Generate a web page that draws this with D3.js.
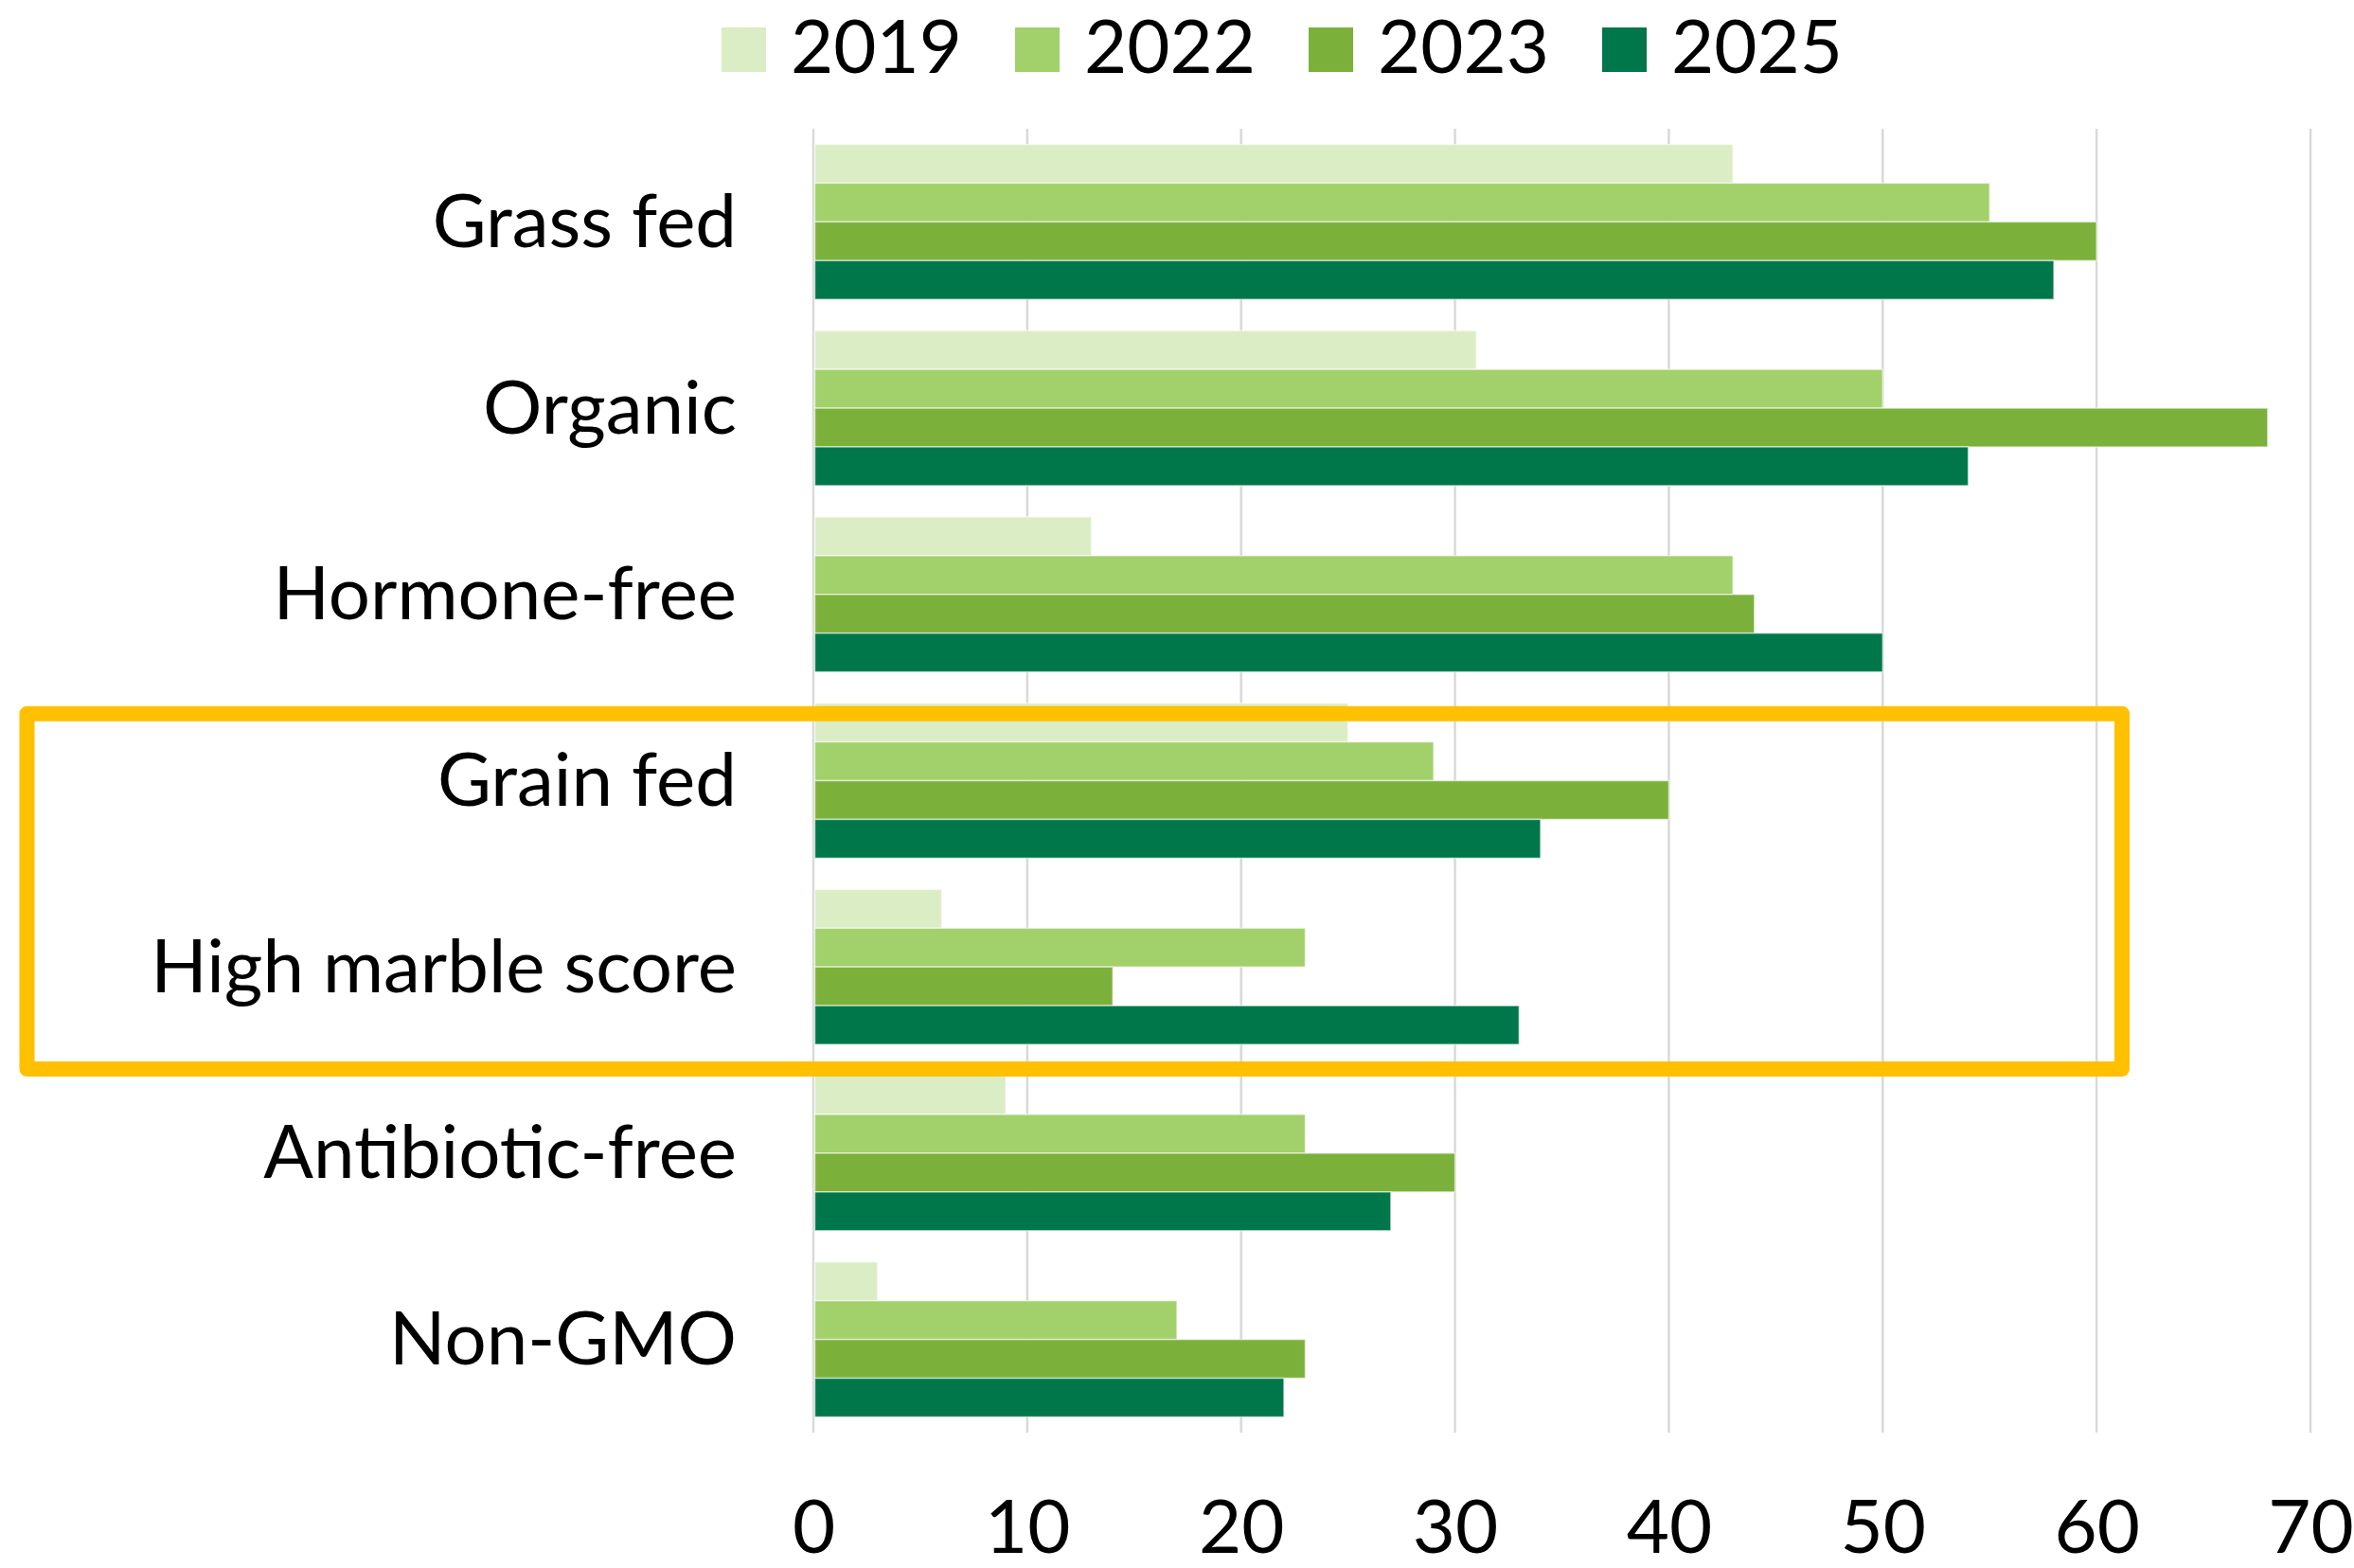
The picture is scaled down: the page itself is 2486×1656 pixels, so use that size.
<!DOCTYPE html>
<html>
<head>
<meta charset="utf-8">
<script src="https://cdn.jsdelivr.net/npm/d3@7"></script>
<style>
  html, body { margin: 0; padding: 0; background: #ffffff; }
  svg { display: block; }
  text { font-family: Lato, "Open Sans", "Noto Sans", sans-serif; fill: #000; }
</style>
</head>
<body>
<svg id="chart" width="2486" height="1656"></svg>
<script>
// Product attributes shown as rows, top to bottom
const categories = ["Grass fed", "Organic", "Hormone-free", "Grain fed", "High marble score", "Antibiotic-free", "Non-GMO"];
// Survey years (series)
const years = ["2019", "2022", "2023", "2025"];
// Values per year, aligned with categories
const values2019 = [43, 31, 13, 25, 6, 9, 3];
const values2022 = [55, 50, 43, 29, 23, 23, 17];
const values2023 = [60, 68, 44, 40, 14, 30, 23];
const values2025 = [58, 54, 50, 34, 33, 27, 22];
// Axis tick values
const xTicks = [0, 10, 20, 30, 40, 50, 60, 70];
// Rows enclosed by the highlight frame
const highlighted = ["Grain fed", "High marble score"];

const seriesValues = { "2019": values2019, "2022": values2022, "2023": values2023, "2025": values2025 };
const colors = { "2019": "#DBEDC4", "2022": "#A2D06A", "2023": "#7BB13A", "2025": "#00774B" };

const svg = d3.select("#chart");
const fontSize = 78;

const plot = { left: 859, right: 2440, top: 136, bottom: 1513 };

const x = d3.scaleLinear().domain([0, 70]).range([plot.left, plot.right]);
const y = d3.scaleBand().domain(categories).range([plot.top, plot.bottom])
  .paddingInner(0.168).paddingOuter(0.084);
const ySub = d3.scaleBand().domain(years).range([0, y.bandwidth()]);

// Vertical gridlines
svg.append("g").selectAll("line").data(xTicks).join("line")
  .attr("x1", d => x(d)).attr("x2", d => x(d))
  .attr("y1", plot.top).attr("y2", plot.bottom)
  .attr("stroke", "#D9D9D9").attr("stroke-width", 2.5);

// Bars
const rows = categories.map((c, i) => ({ cat: c, bars: years.map(yr => ({ year: yr, value: seriesValues[yr][i] })) }));
const groups = svg.append("g").selectAll("g").data(rows).join("g")
  .attr("transform", d => `translate(0,${y(d.cat)})`);
groups.selectAll("rect").data(d => d.bars).join("rect")
  .attr("x", x(0) + 1.5)
  .attr("y", d => ySub(d.year))
  .attr("width", d => x(d.value) - x(0) - 1.5)
  .attr("height", ySub.bandwidth())
  .attr("fill", d => colors[d.year])
  .attr("stroke", "rgba(255,255,255,0.55)")
  .attr("stroke-width", 1.5);

// Category labels
svg.append("g").selectAll("text").data(categories).join("text")
  .attr("x", 778)
  .attr("y", d => y(d) + y.bandwidth() / 2)
  .attr("dy", "0.34em")
  .attr("text-anchor", "end")
  .attr("font-size", fontSize)
  .text(d => d);

// X axis labels
const xAxis = d3.axisBottom(x).tickValues(xTicks).tickSize(0).tickPadding(0).tickFormat(d3.format("d"));
const axisG = svg.append("g").attr("transform", `translate(0,${1640})`).call(xAxis);
axisG.select(".domain").remove();
axisG.selectAll("text")
  .attr("font-size", fontSize)
  .attr("font-family", "Lato, 'Open Sans', sans-serif")
  .attr("fill", "#000")
  .attr("dy", "0");

// Legend
const legend = svg.append("g");
const legendX = d3.scalePoint().domain(years).range([762, 1692]);
const item = legend.selectAll("g").data(years).join("g")
  .attr("transform", d => `translate(${legendX(d)},29)`);
item.append("rect").attr("width", 47).attr("height", 47).attr("fill", d => colors[d]);
item.append("text").attr("x", 73).attr("y", 48)
  .attr("font-size", fontSize).text(d => d);

// Highlight frame around selected rows
const frameTop = y(highlighted[0]) + 11;
const frameBottom = y(highlighted[highlighted.length - 1]) + y.bandwidth() + 26;
svg.append("rect")
  .attr("x", 28.5).attr("y", frameTop)
  .attr("width", 2241 - 28.5).attr("height", frameBottom - frameTop)
  .attr("fill", "none")
  .attr("stroke", "#FFC000").attr("stroke-width", 16)
  .attr("stroke-linejoin", "round");
</script>
</body>
</html>
